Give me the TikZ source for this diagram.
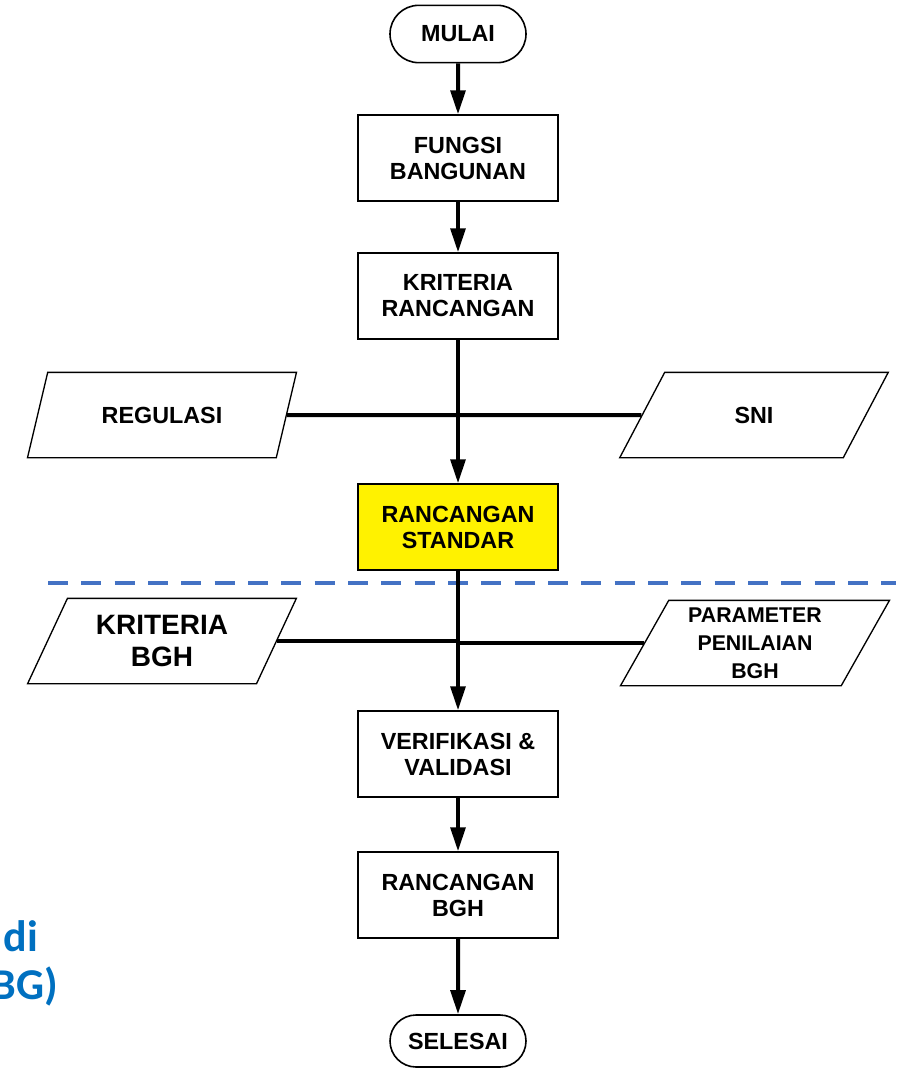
\documentclass[tikz,border=0pt]{standalone}
\usepackage{fontspec}
\setmainfont{Liberation Sans}
\newfontfamily\judulfont{Carlito}
\usetikzlibrary{shapes.geometric,shapes.misc,arrows.meta}
\definecolor{judulblue}{RGB}{0,112,192}
\definecolor{garisblue}{RGB}{68,114,196}
\begin{document}
\begin{tikzpicture}[x=0.75pt,y=-0.75pt,line width=3pt,>={Triangle[width=11pt,length=18pt]},
proses/.style={rectangle,draw,line width=1.5pt,minimum width=150pt,minimum height=64pt,inner sep=2pt,align=center,font=\bfseries\fontsize{17.5}{19.5}\selectfont},
terminal/.style={rounded rectangle,draw,line width=1.2pt,minimum width=106pt,inner sep=2pt,align=center,font=\bfseries\fontsize{17.5}{19.5}\selectfont},
data/.style={trapezium,trapezium left angle=63,trapezium right angle=117,trapezium stretches=true,draw,line width=1pt,minimum width=202pt,minimum height=64pt,inner sep=2pt,align=center,font=\bfseries\fontsize{17.5}{19.5}\selectfont},
judul/.style={anchor=base east,text=judulblue,font=\judulfont\bfseries\fontsize{33}{36}\selectfont,inner sep=0pt}]
\useasboundingbox (0,0) rectangle (896,1069);
%alur utama
\node[terminal,minimum height=43pt] (mulai) at (458,34) {MULAI};
\node[proses] (fungsi) at (458,158) {FUNGSI\\BANGUNAN};
\node[proses] (kriteria) at (458,296) {KRITERIA\\RANCANGAN};
\node[proses,fill=yellow] (standar) at (458,527) {RANCANGAN\\STANDAR};
\node[proses] (verifikasi) at (458,754) {VERIFIKASI \&\\VALIDASI};
\node[proses] (rbgh) at (458,895) {RANCANGAN\\BGH};
\node[terminal,minimum height=39pt] (selesai) at (458,1041) {SELESAI};
%masukan
\node[data] (regulasi) at (162,415) {REGULASI};
\node[data] (sni) at (754,415) {SNI};
\node[data,font=\bfseries\fontsize{21}{24}\selectfont] (kbgh) at (162,641) {KRITERIA\\BGH};
\node[data,font=\bfseries\fontsize{16}{21}\selectfont] (param) at (755,643) {PARAMETER\\PENILAIAN\\BGH};
%garis batas
\coordinate (batas1) at (48,583);
\coordinate (batas2) at (896,583);
\draw[garisblue,line width=3pt,dash pattern=on 15pt off 10pt] (batas1) -- (batas2);
\begin{scope}
\draw[->] (mulai) edge (fungsi);
\draw[->] (fungsi) edge (kriteria);
\draw[->] (kriteria) edge (standar);
\draw[->] (standar) edge (verifikasi);
\draw[->] (verifikasi) edge (rbgh);
\draw[->] (rbgh) edge (selesai);
\draw (regulasi.east) -- (sni.west);
\draw (kbgh.east) -- (kbgh.east -| standar.south);
\draw (param.west) -- (param.west -| standar.south);
\end{scope}
%judul terpotong
\begin{scope}
\clip (0,0) rectangle (896,1069);
\node[judul] (judul1) at (40,951) {di};
\node[judul] (judul2) at (60,999) {BG)};
\end{scope}
\end{tikzpicture}
\end{document}
